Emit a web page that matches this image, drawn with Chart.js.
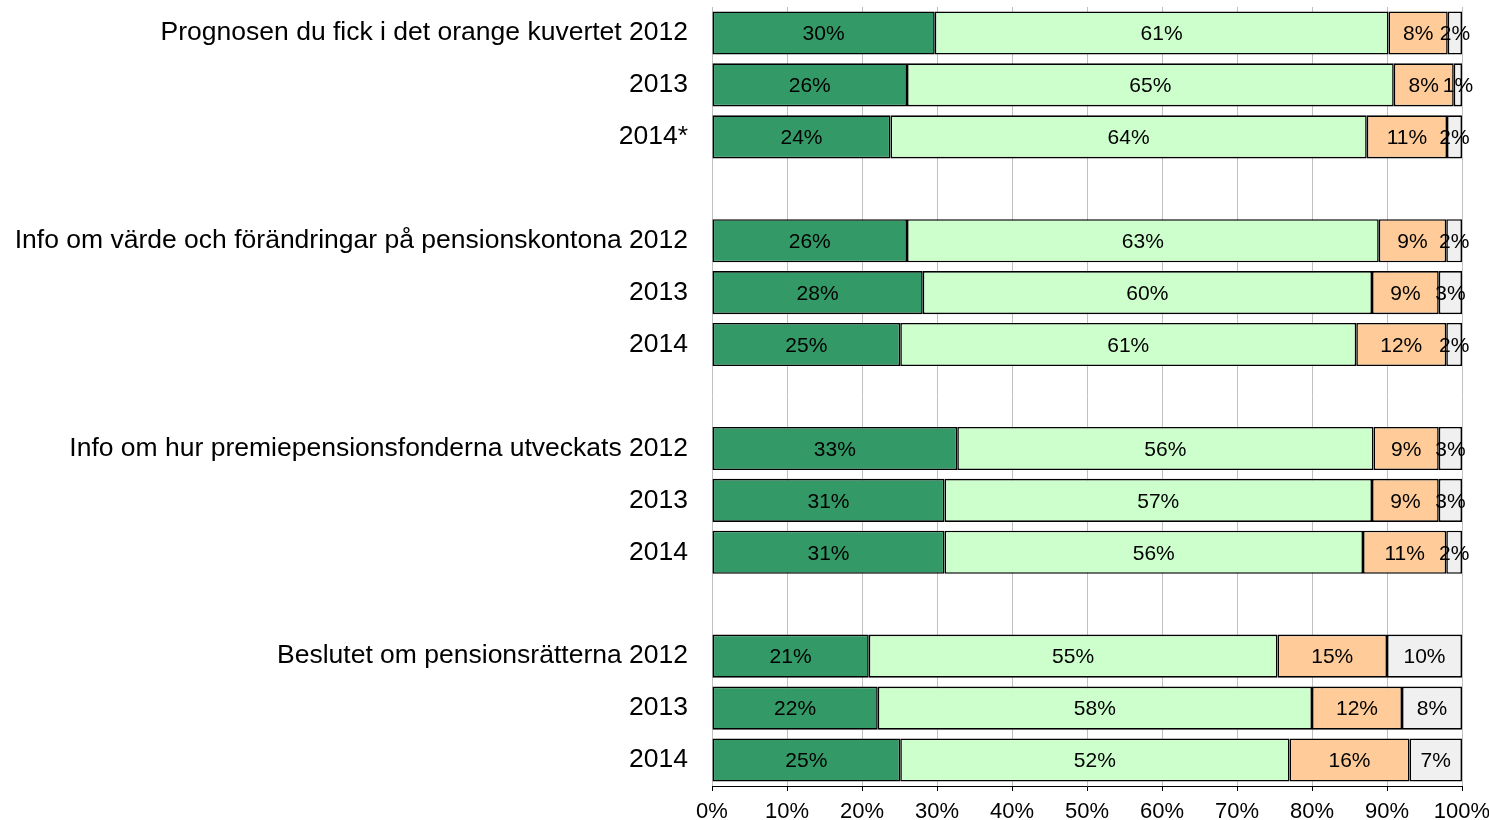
<html>
  <head>
    <meta charset="utf-8">
    <script src="https://cdnjs.cloudflare.com/ajax/libs/Chart.js/4.4.0/chart.umd.min.js"></script>
    <style>
      body { margin: 0; background: #fff; }
    </style>
  </head>
  <body>
    <canvas id="barChart" width="1489" height="820"></canvas>
    <script>
      // rows, top to bottom; '' = empty spacer row
      const categories = [
        'Prognosen du fick i det orange kuvertet 2012', '2013', '2014*', '',
        'Info om värde och förändringar på pensionskontona 2012', '2013', '2014', '',
        'Info om hur premiepensionsfonderna utveckats 2012', '2013', '2014', '',
        'Beslutet om pensionsrätterna 2012', '2013', '2014'
      ];
      const darkGreen  = [29.7, 26.0, 23.8, null, 26.0, 28.1, 25.1, null, 32.7, 31.0, 31.0, null, 20.9, 22.1, 25.1];
      const lightGreen = [60.5, 64.9, 63.5, null, 62.9, 59.9, 60.8, null, 55.5, 57.0, 55.8, null, 54.5, 57.9, 51.9];
      const orange     = [7.9, 8.0, 10.7, null, 9.0, 8.9, 12.0, null, 8.7, 8.9, 11.1, null, 14.6, 12.0, 16.0];
      const grey       = [1.9, 1.1, 2.0, null, 2.1, 3.1, 2.1, null, 3.1, 3.1, 2.1, null, 10.0, 8.0, 7.0];
      const xTicks = [0, 10, 20, 30, 40, 50, 60, 70, 80, 90, 100];

      const FONT = "'Liberation Sans', Arial, sans-serif";

      function makeSet(data, color) {
        return {
          data: data,
          backgroundColor: color,
          borderColor: '#000',
          borderWidth: 1.6,
          borderSkipped: false,
          inflateAmount: 0,
          barPercentage: 0.83,
          categoryPercentage: 1
        };
      }

      // percent text in the middle of every segment
      const valueLabels = {
        id: 'valueLabels',
        afterDatasetsDraw(chart) {
          const ctx = chart.ctx;
          ctx.save();
          ctx.font = '21px ' + FONT;
          ctx.fillStyle = '#000';
          ctx.textAlign = 'center';
          ctx.textBaseline = 'middle';
          chart.data.datasets.forEach(function(ds, i) {
            chart.getDatasetMeta(i).data.forEach(function(bar, j) {
              const v = ds.data[j];
              if (v === null) return;
              ctx.fillText(Math.round(v) + '%', (bar.x + bar.base) / 2, bar.y + 1.5);
            });
          });
          ctx.restore();
        }
      };

      window.onload = function() {
        const ctxBar = document.getElementById('barChart');
        window.myBar = new Chart(ctxBar, {
          type: 'bar',
          data: {
            labels: categories,
            datasets: [
              makeSet(darkGreen, '#339966'),
              makeSet(lightGreen, '#CCFFCC'),
              makeSet(orange, '#FFCC99'),
              makeSet(grey, '#F0F0F0')
            ]
          },
          plugins: [valueLabels],
          options: {
            indexAxis: 'y',
            responsive: false,
            animation: false,
            layout: { padding: { top: 7, right: 27, left: 0, bottom: 0 } },
            plugins: {
              legend: { display: false },
              tooltip: { enabled: false }
            },
            scales: {
              x: {
                stacked: true,
                min: 0,
                max: 100,
                afterBuildTicks: function(scale) {
                  scale.ticks = xTicks.map(function(v) { return { value: v }; });
                },
                afterFit: function(scale) {
                  scale.height = 34;
                  scale.paddingLeft = 0;
                  scale.paddingRight = 0;
                },
                grid: {
                  color: '#C0C0C0',
                  lineWidth: 1,
                  tickColor: '#000',
                  tickLength: 5
                },
                border: { display: true, color: '#000', width: 1 },
                ticks: {
                  padding: 8,
                  color: '#000',
                  font: { family: FONT, size: 22 },
                  callback: function(v) { return v + '%'; }
                }
              },
              y: {
                stacked: true,
                afterFit: function(scale) {
                  scale.width = 712;
                  scale.paddingTop = 0;
                  scale.paddingBottom = 0;
                },
                grid: { display: false, drawTicks: false },
                border: { display: false },
                ticks: {
                  padding: 24,
                  autoSkip: false,
                  color: '#000',
                  font: { family: FONT, size: 26.5 }
                }
              }
            }
          }
        });
      };
    </script>
  </body>
</html>
